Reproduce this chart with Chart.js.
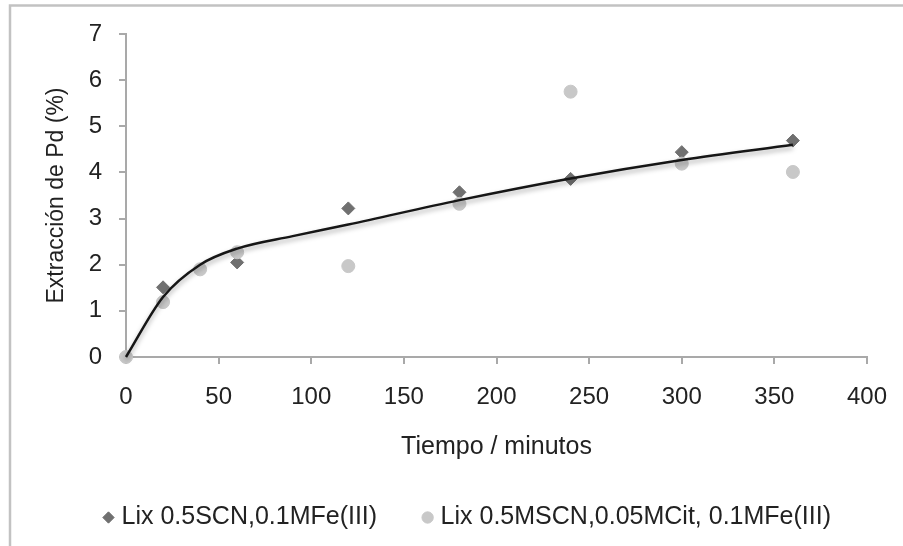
<!DOCTYPE html>
<html>
<head>
<meta charset="utf-8">
<script src="https://cdn.jsdelivr.net/npm/chart.js@4"></script>
<style>
  body { margin: 0; background: #fff; }
  canvas { display: block; }
</style>
</head>
<body>
<canvas id="grafico" width="903" height="546"></canvas>
<script>
// datos
var tiempoA = [0, 20, 60, 120, 180, 240, 300, 360];
var extraccionA = [0, 1.51, 2.05, 3.22, 3.57, 3.86, 4.44, 4.69];
var tiempoB = [0, 20, 40, 60, 120, 180, 240, 300, 360];
var extraccionB = [0, 1.19, 1.9, 2.27, 1.97, 3.32, 5.75, 4.19, 4.01];
var tiempoTend = [0, 20, 40, 60, 90, 120, 180, 240, 300, 360];
var tendencia = [0, 1.3, 2.0, 2.35, 2.62, 2.87, 3.4, 3.87, 4.27, 4.6];
var etiquetas = ['Lix 0.5SCN,0.1MFe(III)', 'Lix 0.5MSCN,0.05MCit, 0.1MFe(III)', 'Tendencia'];

function puntos(xs, ys) {
  return xs.map(function(x, i) { return {x: x, y: ys[i]}; });
}

var gris = '#a9a9a9';
var texto = '#222222';
var fuente = '"Liberation Sans", Arial, Helvetica, sans-serif';

var marco = {
  id: 'marco',
  beforeDraw: function(chart) {
    var c = chart.ctx;
    c.save();
    c.fillStyle = '#fff';
    c.fillRect(0, 0, chart.width, chart.height);
    c.strokeStyle = '#c2c2c2';
    c.lineWidth = 2.5;
    c.strokeRect(10, 5.5, chart.width + 10, chart.height + 10);
    c.restore();
  }
};

var sombra = {
  id: 'sombra',
  beforeDatasetDraw: function(chart, args) {
    if (args.index !== 2) return;
    var c = chart.ctx;
    c.save();
    c.shadowColor = 'rgba(0,0,0,0.35)';
    c.shadowBlur = 5;
    c.shadowOffsetY = 3;
  },
  afterDatasetDraw: function(chart, args) {
    if (args.index === 2) chart.ctx.restore();
  }
};

var ctx = document.getElementById('grafico').getContext('2d');
new Chart(ctx, {
  type: 'scatter',
  data: {
    datasets: [{
      label: etiquetas[0],
      data: puntos(tiempoA, extraccionA),
      pointStyle: 'rectRot',
      pointRadius: 6.5,
      backgroundColor: '#707070',
      borderColor: '#707070',
      order: 2,
      clip: false
    }, {
      label: etiquetas[1],
      data: puntos(tiempoB, extraccionB),
      pointStyle: 'circle',
      pointRadius: 6.5,
      backgroundColor: '#c8c8c8',
      borderColor: '#c8c8c8',
      order: 1,
      clip: false
    }, {
      label: etiquetas[2],
      data: puntos(tiempoTend, tendencia),
      showLine: true,
      pointRadius: 0,
      borderColor: '#161616',
      backgroundColor: '#161616',
      borderWidth: 2.5,
      cubicInterpolationMode: 'monotone',
      order: 0,
      clip: false
    }]
  },
  options: {
    responsive: false,
    animation: false,
    layout: { padding: { top: 34, right: 22, bottom: 6, left: 0 } },
    scales: {
      x: {
        type: 'linear',
        min: 0,
        max: 400,
        ticks: { stepSize: 50, color: texto, padding: 19, font: { family: fuente, size: 24 } },
        grid: { drawOnChartArea: false, drawTicks: true, tickLength: 7, color: gris, lineWidth: 2 },
        border: { color: gris, width: 2 },
        title: {
          display: true,
          text: 'Tiempo / minutos',
          color: texto,
          font: { family: fuente, size: 25 },
          padding: { top: 0, bottom: -7 }
        },
        afterFit: function(s) { s.height = 98; s.paddingLeft = 0; s.paddingRight = 0; }
      },
      y: {
        min: 0,
        max: 7,
        ticks: { stepSize: 1, color: texto, padding: 17, font: { family: fuente, size: 24 } },
        grid: { drawOnChartArea: false, drawTicks: true, tickLength: 7, color: gris, lineWidth: 2 },
        border: { color: gris, width: 2 },
        title: {
          display: true,
          text: 'Extracción de Pd (%)',
          color: texto,
          font: { family: fuente, size: 23 },
          padding: { top: 43, bottom: 0 }
        },
        afterFit: function(s) { s.width = 126; s.paddingTop = 0; s.paddingBottom = 0; }
      },
      derecha: {
        type: 'linear',
        position: 'right',
        min: 0,
        max: 1,
        ticks: { display: false },
        grid: { display: false },
        border: { display: false },
        afterFit: function(s) { s.width = 14; s.paddingTop = 0; s.paddingBottom = 0; }
      }
    },
    plugins: {
      legend: {
        position: 'bottom',
        align: 'end',
        labels: {
          usePointStyle: true,
          boxWidth: 1,
          boxHeight: 8,
          padding: 50,
          color: texto,
          font: { family: fuente, size: 25 },
          filter: function(item) { return item.datasetIndex < 2; },
          sort: function(a, b) { return a.datasetIndex - b.datasetIndex; }
        }
      },
      tooltip: { enabled: false }
    }
  },
  plugins: [marco, sombra]
});
</script>
</body>
</html>
